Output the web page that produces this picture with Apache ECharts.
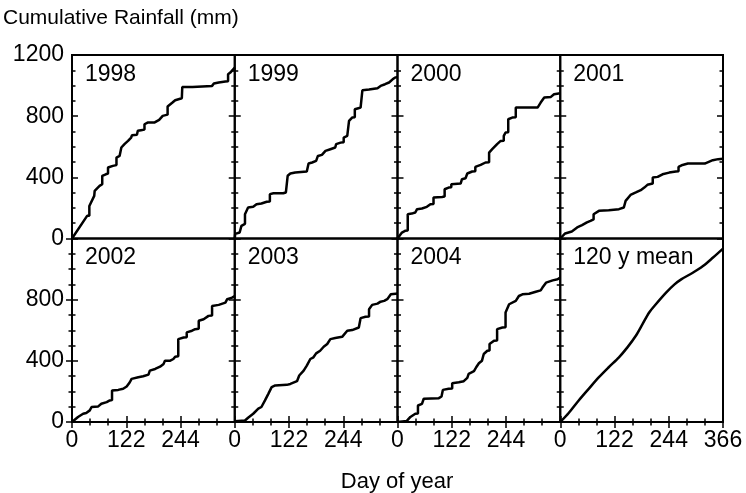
<!DOCTYPE html>
<html>
<head>
<meta charset="utf-8">
<script src="https://cdn.jsdelivr.net/npm/echarts@6/dist/echarts.min.js"></script>
<style>html,body{margin:0;padding:0;background:#fff}#c{width:746px;height:493px}</style>
</head>
<body>
<div id="c"></div>
<script>
// ---- data: [day of year, cumulative rainfall mm] ----
const rain1998 = [[0,0],[4,0],[34,148],[39,148],[39,213],[50,279],[51,279],[51,312],[62,344],[68,355],[68,410],[76,420],[81,425],[81,464],[92,475],[100,480],[100,529],[107,540],[111,545],[111,595],[118,617],[126,638],[133,660],[135,662],[135,675],[146,678],[148,680],[148,704],[155,708],[163,712],[163,747],[170,758],[185,758],[196,776],[204,802],[215,810],[215,863],[226,889],[232,904],[247,917],[248,917],[248,991],[271,991],[315,998],[319,1013],[330,1020],[345,1026],[351,1028],[351,1074],[356,1085],[360,1091],[366,1118]];
const rain1999 = [[0,0],[1,30],[11,39],[15,40],[15,83],[19,94],[23,96],[23,159],[26,170],[30,203],[41.5,207],[49,224],[60,229],[72,240],[79,242],[79,290],[87,296],[109,296],[115,301],[119,303],[119,410],[125,425],[136,431],[162,438],[166,440],[166,490],[174,497],[183,508],[187,510],[187,540],[196,547],[204,573],[215,584],[226,595],[228,597],[228,617],[238,627],[245,630],[245,660],[253,671],[257,673],[257,769],[264,791],[270,793],[270,845],[278,852],[283,856],[287,858],[287,969],[302,974],[321,983],[328,998],[338,1009],[347,1020],[355,1041],[360,1052],[366,1056]];
const rain2000 = [[0,0],[2,7],[10,39],[17,50],[23,52],[23,159],[32,163],[40,170],[44,172],[44,192],[55,196],[66,207],[74,224],[81,226],[81,268],[100,272],[106,274],[106,322],[115,333],[121,335],[121,355],[142,359],[145,361],[145,388],[153,394],[157,396],[157,425],[168,438],[175,440],[175,468],[187,481],[198,497],[206,499],[206,562],[213,584],[224,617],[232,638],[239,640],[239,671],[243,693],[249,695],[249,780],[258,791],[266,793],[266,856],[315,856],[322,889],[330,922],[345,926],[352,943],[366,950]];
const rain2001 = [[0,0],[2,7],[11,33],[26,46],[38,72],[49,87],[60,105],[68,115],[75,125],[75,159],[87,181],[109,185],[132,192],[143,203],[147,210],[147,246],[158,285],[170,301],[181,316],[189,333],[196,351],[208,360],[208,399],[219,403],[230,420],[245,431],[260,438],[266,440],[266,468],[275,481],[287,490],[325,490],[328,492],[328,503],[343,512],[355,519],[366,522]];
const rain2002 = [[0,0],[2,11],[13.5,33],[25,54],[32,59],[40,76],[44,98],[59,102],[66,119],[78,130],[85,141],[90,143],[90,206],[104,210],[115,217],[123,232],[130,260],[134,282],[149,293],[160,299],[172,310],[175,312],[175,336],[187,347],[198,362],[206,380],[209,382],[209,401],[221,401],[228,412],[232,427],[239,430],[239,542],[251,553],[258,555],[258,586],[270,597],[277,607],[285,610],[285,662],[296,672],[307,694],[315,696],[315,759],[330,766],[345,781],[349,803],[360,813],[366,824]];
const rain2003 = [[0,5],[23,10],[30,28],[41.5,54],[53,87],[60,98],[68,141],[72,152],[75.5,184],[83,228],[91,239],[117,243],[125,249],[128,260],[140,267],[145,304],[155,336],[162,369],[170,412],[177,423],[183,449],[192,466],[200,492],[208,510],[215,542],[226,549],[241.5,557],[245,570],[253,597],[264,601],[268,614],[279,618],[283,620],[283,679],[294,688],[302,690],[302,738],[309,766],[321,774],[328,787],[336,792],[343,803],[351,835],[362,839],[366,840]];
const rain2004 = [[0,0],[21,7],[29,33],[40,54],[46,56],[46,108],[55,119],[59,121],[59,152],[93,156],[99,167],[102,169],[102,210],[115,217],[123,219],[123,254],[138,260],[149,267],[157,289],[160,291],[160,315],[172,332],[177,358],[183,384],[190,401],[194,403],[194,445],[202,466],[207,468],[207,510],[217,531],[224,533],[224,607],[236,618],[243,620],[243,716],[251,770],[266,792],[273,824],[281,835],[296,839],[311,852],[322,861],[326,879],[334,911],[349,926],[360,933],[366,945]];
const rainMean = [[0,0],[19,59],[41.5,141],[64,217],[87,293],[109,358],[132,423],[151,488],[170,564],[185,640],[200,716],[215,770],[238,846],[257,900],[272,933],[298,976],[321,1020],[343,1074],[366,1134]];

const panelNames = ['1998','1999','2000','2001','2002','2003','2004','120 y mean'];
const panelData = [rain1998, rain1999, rain2000, rain2001, rain2002, rain2003, rain2004, rainMean];
const xTicks = [0, 122, 244, 366];
const yTicks = [0, 400, 800, 1200];

// ---- layout ----
const FONT = 'Liberation Sans, Arial, Helvetica, sans-serif';
const L = 72, T = 55, PW = 162.75, PH = 183.5;
const grids = [], xAxes = [], yAxes = [], series = [], graphics = [];

panelNames.forEach((name, i) => {
  const row = i < 4 ? 0 : 1, col = i % 4;
  const left = L + col * PW, top = T + row * PH;
  grids.push({left: left, top: top, width: PW, height: PH, show: true,
    borderColor: '#000', borderWidth: 2, backgroundColor: 'transparent'});
  const tickStyle = {color: '#000', width: 1.5};
  const xBase = {type: 'value', gridIndex: i, min: xTicks[0], max: xTicks[3], interval: xTicks[1],
    axisLine: {show: false}, splitLine: {show: false}, minorSplitLine: {show: false}};
  const xi = xAxes.length;
  xAxes.push(Object.assign({}, xBase, {position: 'bottom',
    axisTick: {show: row === 1, inside: true, length: 6, lineStyle: tickStyle},
    minorTick: {show: row === 1, splitNumber: 3, length: 3.5, lineStyle: tickStyle},
    axisLabel: {show: row === 1, margin: 7, fontSize: 23, color: '#000', fontFamily: FONT,
      formatter: v => (v === 366 && col < 3) ? '' : String(v)}}));
  if (row === 1) {
    xAxes.push(Object.assign({}, xBase, {position: 'top',
      axisTick: {show: true, inside: true, length: 6, lineStyle: tickStyle},
      minorTick: {show: true, splitNumber: 3, length: 3.5, lineStyle: tickStyle},
      axisLabel: {show: false}}));
  }
  const yBase = {type: 'value', gridIndex: i, min: yTicks[0], max: yTicks[3], interval: yTicks[1],
    axisLine: {show: false}, splitLine: {show: false}, minorSplitLine: {show: false},
    axisTick: {show: true, inside: true, length: 6, lineStyle: tickStyle},
    minorTick: {show: true, splitNumber: 4, length: 3.5, lineStyle: tickStyle}};
  const yi = yAxes.length;
  yAxes.push(Object.assign({}, yBase, {position: 'left',
    axisLabel: {show: col === 0, margin: 8, fontSize: 23, color: '#000', fontFamily: FONT,
      formatter: v => (row === 1 && v === 1200) ? '' : String(v)}}));
  yAxes.push(Object.assign({}, yBase, {position: 'right', axisLabel: {show: false}}));
  series.push({type: 'line', xAxisIndex: xi, yAxisIndex: yi, data: panelData[i],
    showSymbol: false, smooth: i === 7 ? 0.3 : false,
    lineStyle: {color: '#000', width: 2.5}, z: 3});
  graphics.push({type: 'text', left: left + 13, top: top + 8,
    style: {text: name, font: '23px ' + FONT, fill: '#000'}});
});

graphics.push({type: 'text', left: 3, top: 8,
  style: {text: 'Cumulative Rainfall (mm)', font: '21px ' + FONT, fill: '#000'}});
graphics.push({type: 'text', x: 397, y: 471,
  style: {text: 'Day of year', font: '22px ' + FONT, fill: '#000', align: 'center', verticalAlign: 'top'}});

const chart = echarts.init(document.getElementById('c'), null, {renderer: 'canvas'});
chart.setOption({
  animation: false,
  backgroundColor: '#fff',
  grid: grids, xAxis: xAxes, yAxis: yAxes, series: series, graphic: graphics
});
</script>
</body>
</html>
